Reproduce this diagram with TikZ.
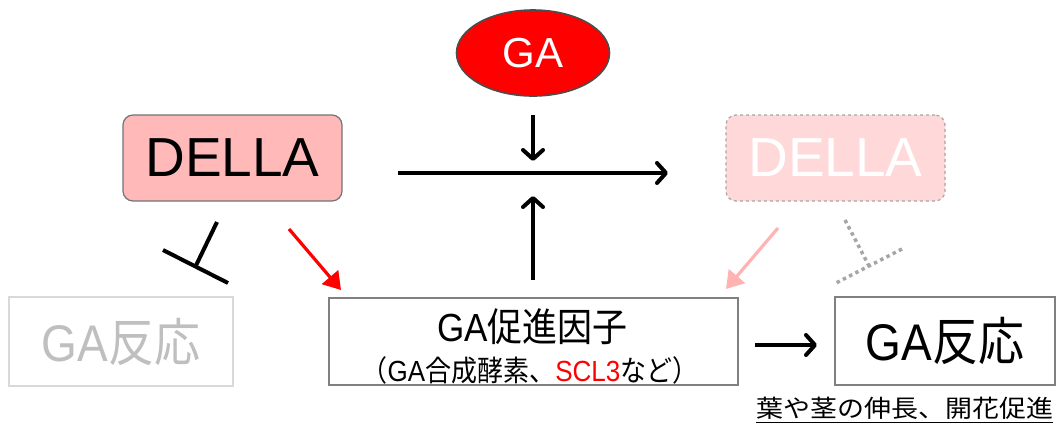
\documentclass[tikz,border=0pt]{standalone}
\usepackage{fontspec}
\setmainfont{Liberation Sans}
\newfontfamily\jpfont{Noto Sans CJK JP}
\usetikzlibrary{arrows.meta,shapes.geometric}
\definecolor{dellapink}{HTML}{FFB9B9}
\definecolor{dellafade}{HTML}{FFD9D9}
\definecolor{boxgray}{HTML}{808080}
\definecolor{fadegray}{HTML}{D9D9D9}
\definecolor{fadetext}{HTML}{BFBFBF}
\definecolor{dotgray}{HTML}{A6A6A6}
\definecolor{pinkarrow}{HTML}{FFB3B3}
\tikzset{
  barb/.style={line width=4pt,-{Straight Barb[length=9pt,width=20pt,line cap=round,line join=round]}},
  tri/.style={line width=3.2pt,-{Triangle[length=17pt,width=21pt]}},
  inhib/.style={line width=4pt},
  dellabox/.style={rectangle,rounded corners=10pt,minimum width=219pt,minimum height=86pt,inner sep=0pt,font=\fontsize{55}{60}\selectfont,line width=1.2pt},
  gabox/.style={rectangle,inner sep=0pt,line width=2.5pt},
}
\begin{document}
\begin{tikzpicture}[x=1pt,y=-1pt]
\useasboundingbox (0,0) rectangle (1057,432);
% nodes
\node[ellipse,fill=red,draw=black!70,line width=1.6pt,minimum width=153pt,minimum height=86pt,inner sep=0pt,text=white,font=\fontsize{42}{46}\selectfont] (ga) at (533,53) {GA};
\node[dellabox,fill=dellapink,draw=black!55] (dl) at (232.5,158) {DELLA};
\node[dellabox,fill=dellafade,draw=black!35,dashed,text=white] (dr) at (835.5,158) {DELLA};
\node[gabox,draw=fadegray,minimum width=224pt,minimum height=89pt,text=fadetext,font=\fontsize{46}{50}\selectfont] (resL) at (121,341.5) {\scalebox{1}[1.12]{GA{\jpfont 反応}}};
\node[gabox,draw=boxgray,minimum width=409pt,minimum height=87pt] (promo) at (533.5,341.5) {};
\node[inner sep=0pt,font=\fontsize{35}{40}\selectfont] (promo1) at (532.5,327) {\scalebox{1}[1.12]{GA{\jpfont 促進因子}}};
\node[inner sep=0pt,font=\fontsize{26}{30}\selectfont] (promo2) at (530,370) {\scalebox{1}[1.12]{{\jpfont （}GA{\jpfont 合成酵素、}\textcolor{red}{SCL3}{\jpfont など）}}};
\node[gabox,draw=boxgray,minimum width=220pt,minimum height=88pt,font=\fontsize{46}{50}\selectfont] (resR) at (945,341) {\scalebox{1}[1.12]{GA{\jpfont 反応}}};
\node[inner sep=0pt,font=\fontsize{27}{30}\selectfont\jpfont] (cap) at (904.5,408) {\scalebox{1}[0.9]{葉や茎の伸長、開花促進}};
\draw[line width=1.5pt] (cap.south west) ++(0,3) coordinate (ulA) -- (cap.south east |- ulA) coordinate (ulB);
% connector coordinates
\coordinate (gaA) at (533,115);
\coordinate (gaB) at (533,161);
\coordinate (hA) at (398,173);
\coordinate (hB) at (668,173);
\coordinate (upA) at (533,280);
\coordinate (upB) at (533,196);
\coordinate (rA) at (755,345);
\coordinate (rB) at (817,345);
\coordinate (redA) at (289,229);
\coordinate (redB) at (341,290);
\coordinate (pkA) at (778,228);
\coordinate (pkB) at (726,289);
\coordinate (tLs) at (217,222);
\coordinate (tLm) at (195.5,266.5);
\coordinate (tLa) at (163,250);
\coordinate (tLb) at (228,283);
\coordinate (tRs) at (845,220);
\coordinate (tRm) at (869,266);
\coordinate (tRa) at (902,249);
\coordinate (tRb) at (836,283);
% connectors
\draw[barb] (gaA) -- (gaB);
\draw[barb] (hA) -- (hB);
\draw[barb] (upA) -- (upB);
\draw[barb] (rA) -- (rB);
\draw[tri,red] (redA) -- (redB);
\draw[tri,pinkarrow] (pkA) -- (pkB);
\draw[inhib] (tLs) -- (tLm);
\draw[inhib] (tLa) -- (tLb);
\draw[line width=3.5pt,dotgray,dash pattern=on 3.5pt off 3.5pt] (tRs) -- (tRm);
\draw[line width=3.5pt,dotgray,dash pattern=on 3.5pt off 3.5pt] (tRa) -- (tRb);
\end{tikzpicture}
\end{document}
